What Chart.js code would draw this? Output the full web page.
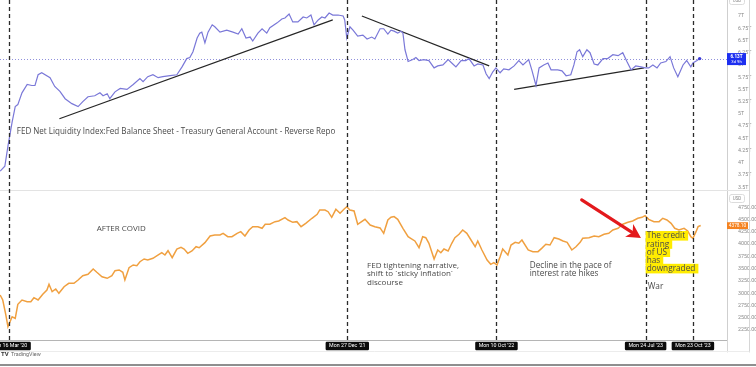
<!DOCTYPE html>
<html>
<head>
<meta charset="utf-8">
<script src="https://cdn.jsdelivr.net/npm/chart.js@4.4.1/dist/chart.umd.min.js"></script>
<style>
html,body{margin:0;padding:0;background:#fff;overflow:hidden}
#wrap{position:relative;width:756px;height:367px}
</style>
</head>
<body>
<div id="wrap"><canvas id="c" width="756" height="367"></canvas></div>
<script>
// ---------- DATA (days counted from Mon 16 Mar 2020) ----------
const liquidityDays = [-17,-8,-2,6,12,17,25,35,44,50,
56,63,79,88,98,108,121,133,142,152,
165,175,181,189,194,204,214,227,239,252,
258,267,277,287,296,310,323,333,342,348,
354,362,367,371,377,383,391,396,406,419,
431,441,448,456,464,469,479,487,496,502,
516,525,531,539,546,556,566,573,581,587,
595,602,608,616,623,633,643,646,650,656,
662,671,681,689,698,704,714,721,729,735,
741,748,754,758,762,768,777,783,789,798,
808,818,825,835,845,854,860,870,879,885,
895,902,912,918,924,931,937,945,952,962,
972,981,989,1000,1006,1014,1020,1029,1037,1043,
1056,1064,1072,1081,1087,1093,1098,1104,1112,1118,
1126,1133,1143,1152,1162,1172,1181,1189,1197,1206,
1216,1224,1231,1239,1247,1254,1264,1272,1279,1287,
1297,1304,1312,1316,1324,1329];
const liquidityValues = [3.83,3.93,4.34,4.83,5.15,5.19,5.43,5.60,5.58,5.58,
5.80,5.84,5.74,5.56,5.46,5.31,5.21,5.15,5.25,5.35,
5.37,5.43,5.37,5.41,5.31,5.45,5.52,5.50,5.60,5.72,
5.66,5.76,5.80,5.74,5.76,5.78,5.80,5.96,6.13,6.15,
6.27,6.55,6.65,6.67,6.45,6.67,6.82,6.78,6.67,6.71,
6.67,6.63,6.74,6.55,6.57,6.49,6.65,6.74,6.65,6.76,
6.86,6.94,6.96,7.04,6.88,6.88,6.98,6.96,7.02,6.82,
6.92,6.98,6.96,7.06,7.02,7.02,7.00,6.92,6.55,6.78,
6.71,6.59,6.61,6.53,6.57,6.53,6.74,6.74,6.63,6.71,
6.69,6.65,6.69,6.65,6.31,6.07,6.11,6.15,6.09,6.11,
6.09,5.94,5.98,6.00,6.11,6.02,5.96,6.09,6.09,6.13,
5.98,6.02,6.00,5.82,5.72,5.86,5.94,5.84,5.92,5.90,
5.98,6.09,6.00,6.11,5.90,5.58,5.94,6.00,6.04,5.90,
5.90,5.88,5.78,5.80,6.00,6.27,6.31,6.17,6.31,6.25,
6.02,6.00,6.13,6.13,6.21,6.19,6.25,6.07,5.90,5.98,
5.96,5.94,5.94,6.00,5.94,6.04,6.07,6.17,5.94,5.76,
6.00,6.09,5.96,6.04,6.09,6.13];

const spxDays = [-17,-12,-6,-2,2,6,12,17,25,35,
42,48,56,65,73,77,83,90,96,106,
115,125,133,142,152,162,169,179,189,198,
204,212,219,223,231,239,246,252,260,267,
277,285,294,300,306,314,323,331,337,344,
352,360,366,377,387,396,406,412,421,429,
439,446,454,462,469,479,487,493,502,512,
519,531,537,546,554,562,571,583,593,598,
608,614,621,629,637,645,650,656,664,671,
685,695,704,714,721,729,735,741,748,758,
768,773,781,789,796,802,808,818,825,831,
837,845,852,858,866,873,881,889,897,902,
910,920,927,933,939,945,950,960,966,974,
981,987,999,1008,1018,1025,1033,1041,1049,1058,
1066,1074,1083,1091,1099,1104,1116,1126,1135,1145,
1154,1162,1172,1181,1191,1200,1210,1218,1224,1231,
1241,1251,1258,1266,1274,1281,1289,1299,1306,1312,
1316,1322,1326,1331];
const spxValues = [2964,2862,2555,2318,2420,2521,2489,2774,2862,2827,
2827,2909,2862,2978,3065,3182,3031,3086,2998,3133,
3202,3202,3269,3357,3385,3493,3426,3336,3304,3357,
3459,3473,3426,3269,3520,3575,3561,3642,3697,3677,
3711,3764,3825,3778,3866,3723,3900,3935,3900,3813,
3860,3947,3927,4029,4165,4186,4186,4220,4151,4151,
4220,4253,4165,4288,4355,4355,4322,4404,4404,4457,
4471,4538,4491,4444,4457,4355,4424,4526,4607,4695,
4695,4660,4546,4709,4628,4715,4762,4695,4675,4404,
4505,4389,4355,4330,4220,4491,4546,4560,4505,4322,
4151,4118,4064,3927,4151,4131,4017,3697,3880,3825,
3900,3860,4017,4131,4200,4288,4220,4084,3947,4064,
3880,3677,3589,3622,3575,3744,3900,3778,3982,4037,
4017,4084,3880,3846,3846,3914,3996,3982,4131,4104,
4064,4037,3880,3947,4037,4118,4131,4165,4151,4200,
4220,4288,4322,4404,4444,4471,4526,4546,4579,4505,
4457,4457,4526,4491,4424,4322,4288,4322,4267,4151,
4118,4253,4355,4378.1];

// trend lines drawn on the liquidity pane (start/end day, start/end value)
const trendStartDays = [97, 679, 972];
const trendStartValues = [4.90, 7.00, 5.50];
const trendEndDays = [623, 924, 1222];
const trendEndValues = [6.92, 5.98, 5.94];

const liquidityTicks = [3.5,3.75,4,4.25,4.5,4.75,5,5.25,5.5,5.75,6,6.25,6.5,6.75,7];
const spxTicks = [2250,2500,2750,3000,3250,3500,3750,4000,4250,4500,4750];

const monthTickDates = ['2020-07-06','2020-09-07','2021-01-04','2021-04-05','2021-06-07','2021-09-06','2022-03-07','2022-06-06','2022-09-05','2023-01-02','2023-03-06','2023-06-05'];
const monthTickLabels = ['Jul','Sep','2021','Apr','Jun','Sep','Mar','Jun','Sep','2023','Mar','Jun'];

const eventDates = ['2020-03-16','2021-12-27','2022-10-10','2023-07-24','2023-10-23'];
const eventLabels = ["Mon 16 Mar '20","Mon 27 Dec '21","Mon 10 Oct '22","Mon 24 Jul '23","Mon 23 Oct '23"];

const liquidityTitle = 'FED Net Liquidity Index:Fed Balance Sheet - Treasury General Account - Reverse Repo';
const noteCovid = ['AFTER COVID'];
const noteFed = ['FED tightening narrative,', 'shift to `sticky inflation`', 'discourse'];
const noteDecline = ['Decline in the pace of', 'interest rate hikes'];
const noteCredit = ['The credit', 'rating', 'of US', 'has', 'downgraded'];
const noteWar = ['•', 'War'];

// ---------- helpers ----------
const dayOf = s => { const [y,m,d] = s.split('-').map(Number); return (Date.UTC(y,m-1,d) - Date.UTC(2020,2,16)) / 86400000; };
const FONT = 'Roboto, "Liberation Sans", sans-serif';
const NOTE_FONT = '"Open Sans", "Liberation Sans", sans-serif';

function fitSize(ctx, text, width, fam) {
  ctx.font = '20px ' + fam;
  return 20 * width / ctx.measureText(text).width;
}

const overlay = {
  id: 'overlay',
  beforeDatasetsDraw(chart) {
    const {ctx, chartArea} = chart;
    const yT = chart.scales.yTop;
    ctx.save();
    ctx.strokeStyle = '#e3e3e3'; ctx.lineWidth = 1;
    ctx.beginPath(); ctx.moveTo(0, yT.bottom + 0.5); ctx.lineTo(749, yT.bottom + 0.5); ctx.stroke();
    const py = Math.round(yT.getPixelForValue(liquidityValues[liquidityValues.length - 1])) + 0.5;
    ctx.strokeStyle = '#9090dc'; ctx.setLineDash([1, 2]);
    ctx.beginPath(); ctx.moveTo(chartArea.left, py); ctx.lineTo(chartArea.right, py); ctx.stroke();
    ctx.restore();
  },
  afterDatasetsDraw(chart) {
    const {ctx, chartArea} = chart;
    const xs = chart.scales.x;
    ctx.save();
    ctx.strokeStyle = '#2b2b2b'; ctx.lineWidth = 1.3; ctx.setLineDash([4, 3]);
    eventDates.forEach(d => {
      const x = Math.round(xs.getPixelForValue(dayOf(d))) + 0.5;
      ctx.beginPath(); ctx.moveTo(x, chartArea.top); ctx.lineTo(x, chartArea.bottom); ctx.stroke();
    });
    ctx.restore();
  },
  afterDraw(chart) {
    const {ctx, chartArea} = chart;
    const xs = chart.scales.x, yT = chart.scales.yTop, yB = chart.scales.yBot;
    ctx.save();
    ctx.textAlign = 'left'; ctx.textBaseline = 'middle';

    ctx.fillStyle = '#4a4a4a';
    let s = fitSize(ctx, liquidityTitle, 319, NOTE_FONT);
    ctx.font = s + 'px ' + NOTE_FONT;
    ctx.fillText(liquidityTitle, xs.getPixelForValue(15), yT.getPixelForValue(4.63));

    s = fitSize(ctx, noteCovid[0], 49, NOTE_FONT);
    ctx.font = s + 'px ' + NOTE_FONT;
    ctx.fillText(noteCovid[0], xs.getPixelForValue(169), yB.getPixelForValue(4318));

    s = fitSize(ctx, noteFed[0], 92, NOTE_FONT);
    ctx.font = s + 'px ' + NOTE_FONT;
    let x0 = xs.getPixelForValue(689), y0 = yB.getPixelForValue(3560);
    noteFed.forEach((t, i) => ctx.fillText(t, x0, y0 + i * 8.4));

    s = fitSize(ctx, noteDecline[0], 82, NOTE_FONT);
    ctx.font = s + 'px ' + NOTE_FONT;
    x0 = xs.getPixelForValue(1002); y0 = yB.getPixelForValue(3560);
    noteDecline.forEach((t, i) => ctx.fillText(t, x0, y0 + i * 8.4));

    s = fitSize(ctx, noteCredit[0], 38.5, NOTE_FONT);
    ctx.font = s + 'px ' + NOTE_FONT;
    x0 = xs.getPixelForValue(1227); y0 = yB.getPixelForValue(4165);
    ctx.fillStyle = '#ffec00';
    noteCredit.forEach((t, i) => {
      const w = ctx.measureText(t).width;
      ctx.fillRect(x0 - 1, y0 + i * 8.2 - 5, w + 4, 9.6);
    });
    ctx.fillStyle = '#4a4a4a';
    noteCredit.forEach((t, i) => ctx.fillText(t, x0, y0 + i * 8.2));
    ctx.font = (s * 0.7) + 'px ' + NOTE_FONT;
    ctx.fillText(noteWar[0], x0 + 0.5, y0 + 5 * 8.2 - 0.5);
    ctx.font = s + 'px ' + NOTE_FONT;
    ctx.fillText(noteWar[1], x0 + 1, y0 + 5 * 8.2 + 9.5);

    // red arrow
    const ax0 = xs.getPixelForValue(1102), ay0 = yB.getPixelForValue(4899);
    const ax1 = xs.getPixelForValue(1216), ay1 = yB.getPixelForValue(4125);
    const ang = Math.atan2(ay1 - ay0, ax1 - ax0);
    const L = 14, W = 7.5;
    const bx = ax1 - L * Math.cos(ang), by = ay1 - L * Math.sin(ang);
    ctx.strokeStyle = '#e3191c'; ctx.fillStyle = '#e3191c'; ctx.lineWidth = 3.2; ctx.lineCap = 'round';
    ctx.beginPath(); ctx.moveTo(ax0, ay0); ctx.lineTo(bx + 3 * Math.cos(ang), by + 3 * Math.sin(ang)); ctx.stroke();
    ctx.beginPath();
    ctx.moveTo(ax1, ay1);
    ctx.lineTo(bx - W * Math.sin(ang), by + W * Math.cos(ang));
    ctx.lineTo(bx + 4 * Math.cos(ang), by + 4 * Math.sin(ang));
    ctx.lineTo(bx + W * Math.sin(ang), by - W * Math.cos(ang));
    ctx.closePath(); ctx.fill();

    // right axis decorations
    ctx.strokeStyle = '#d6d6d6'; ctx.lineWidth = 1;
    ctx.beginPath(); ctx.moveTo(749.5, 0); ctx.lineTo(749.5, 352); ctx.stroke();
    ctx.beginPath(); ctx.moveTo(727.5, chartArea.bottom); ctx.lineTo(727.5, 352); ctx.stroke();
    ctx.strokeStyle = '#ececec';
    ctx.beginPath(); ctx.moveTo(0, 351.5); ctx.lineTo(749, 351.5); ctx.stroke();
    ctx.textAlign = 'center';
    [[yB.top + 4, 8], [-4, 8]].forEach(([top, h]) => {
      ctx.fillStyle = '#fff'; ctx.strokeStyle = '#dcdcdc';
      ctx.beginPath(); ctx.roundRect(729.5, top + 0.5, 15, h, 2); ctx.fill(); ctx.stroke();
      ctx.fillStyle = '#888'; ctx.font = '4.5px ' + FONT;
      ctx.fillText('USD', 737, top + h / 2 + 0.5);
    });
    const lv = liquidityValues[liquidityValues.length - 1];
    let ly = yT.getPixelForValue(lv);
    ctx.fillStyle = '#1d2ff0';
    ctx.fillRect(727, ly - 5.5, 19, 12);
    ctx.fillStyle = '#fff'; ctx.font = 'bold 4.6px ' + FONT;
    ctx.fillText(lv.toFixed(2) + 'T', 736.5, ly - 1.8);
    ctx.font = '4.2px ' + FONT;
    ctx.fillText('3d 9h', 736.5, ly + 3.2);
    const sv = spxValues[spxValues.length - 1];
    ly = yB.getPixelForValue(sv);
    ctx.fillStyle = '#f5821f';
    ctx.fillRect(727, ly - 3.3, 21, 6.8);
    ctx.fillStyle = '#fff'; ctx.font = '4.8px ' + FONT;
    ctx.fillText(sv.toFixed(2), 737.5, ly + 0.2);

    // event date boxes
    ctx.font = '5.3px ' + FONT;
    eventDates.forEach((d, i) => {
      const x = xs.getPixelForValue(dayOf(d));
      const w = ctx.measureText(eventLabels[i]).width + 7;
      ctx.fillStyle = '#0c0c0c';
      ctx.beginPath(); ctx.roundRect(x - w / 2, chartArea.bottom + 1, w, 8.6, 1.2); ctx.fill();
      ctx.fillStyle = '#fff';
      ctx.fillText(eventLabels[i], x, chartArea.bottom + 5.4);
    });

    // footer
    ctx.textAlign = 'left';
    ctx.fillStyle = '#333'; ctx.font = 'bold 6px ' + FONT;
    ctx.fillText('TV', 1, 354.5);
    ctx.fillStyle = '#666'; ctx.font = '5.4px ' + FONT;
    ctx.fillText('TradingView', 11, 354.5);
    ctx.strokeStyle = '#6a6a6a'; ctx.lineWidth = 1.6;
    ctx.beginPath(); ctx.moveTo(0, 365); ctx.lineTo(756, 365); ctx.stroke();
    ctx.restore();
  }
};

const lastIdx = liquidityValues.length - 1;
const datasets = [
  {
    data: liquidityDays.map((d, i) => ({x: d, y: liquidityValues[i]})),
    yAxisID: 'yTop', borderColor: '#7a78d8', borderWidth: 1.2, tension: 0,
    pointRadius: c => c.dataIndex === lastIdx ? 1.7 : 0,
    pointBackgroundColor: '#3b3bd8', pointBorderWidth: 0
  },
  {
    data: spxDays.map((d, i) => ({x: d, y: spxValues[i]})),
    yAxisID: 'yBot', borderColor: '#f0a040', borderWidth: 1.5, tension: 0, pointRadius: 0
  }
];
trendStartDays.forEach((d, i) => {
  datasets.push({
    data: [{x: d, y: trendStartValues[i]}, {x: trendEndDays[i], y: trendEndValues[i]}],
    yAxisID: 'yTop', borderColor: '#262626', borderWidth: 1.2, pointRadius: 0, tension: 0
  });
});

const tickFont = {size: 5.3, family: FONT};
const noPad = s => { s.paddingTop = 0; s.paddingBottom = 0; s.paddingLeft = 0; s.paddingRight = 0; };

new Chart(document.getElementById('c'), {
  type: 'line',
  data: {datasets},
  options: {
    responsive: false, animation: false, devicePixelRatio: 1,
    layout: {autoPadding: false, padding: {left: 0, right: 0, top: 0, bottom: 15}},
    plugins: {legend: {display: false}, tooltip: {enabled: false}},
    scales: {
      x: {
        type: 'linear', min: -17.3, max: 1381.6,
        grid: {display: false}, border: {display: true, color: '#b5b5b5'},
        afterBuildTicks: s => { s.ticks = monthTickDates.map(d => ({value: dayOf(d)})); },
        ticks: {callback: (v, i) => monthTickLabels[i], font: tickFont, color: '#8a8a8a', maxRotation: 0, autoSkip: false, padding: 2},
        afterFit: s => { s.height = 11.3; noPad(s); }
      },
      yTop: {
        type: 'linear', position: 'right', stack: 'panes', stackWeight: 190,
        min: 3.445, max: 7.327,
        grid: {display: false}, border: {display: true, color: '#cfcfcf'},
        afterBuildTicks: s => { s.ticks = liquidityTicks.map(v => ({value: v})); },
        ticks: {callback: v => v + 'T', font: tickFont, color: '#8a8a8a', padding: 3, crossAlign: 'near', autoSkip: false},
        afterFit: s => { s.width = 29; noPad(s); }
      },
      yBot: {
        type: 'linear', position: 'right', stack: 'panes', stackWeight: 150.7,
        min: 2033, max: 5102,
        grid: {display: false}, border: {display: true, color: '#cfcfcf'},
        afterBuildTicks: s => { s.ticks = spxTicks.map(v => ({value: v})); },
        ticks: {callback: v => v.toFixed(2), font: tickFont, color: '#8a8a8a', padding: 3, crossAlign: 'near', autoSkip: false},
        afterFit: s => { s.width = 29; noPad(s); }
      }
    }
  },
  plugins: [overlay]
});
</script>
</body>
</html>
